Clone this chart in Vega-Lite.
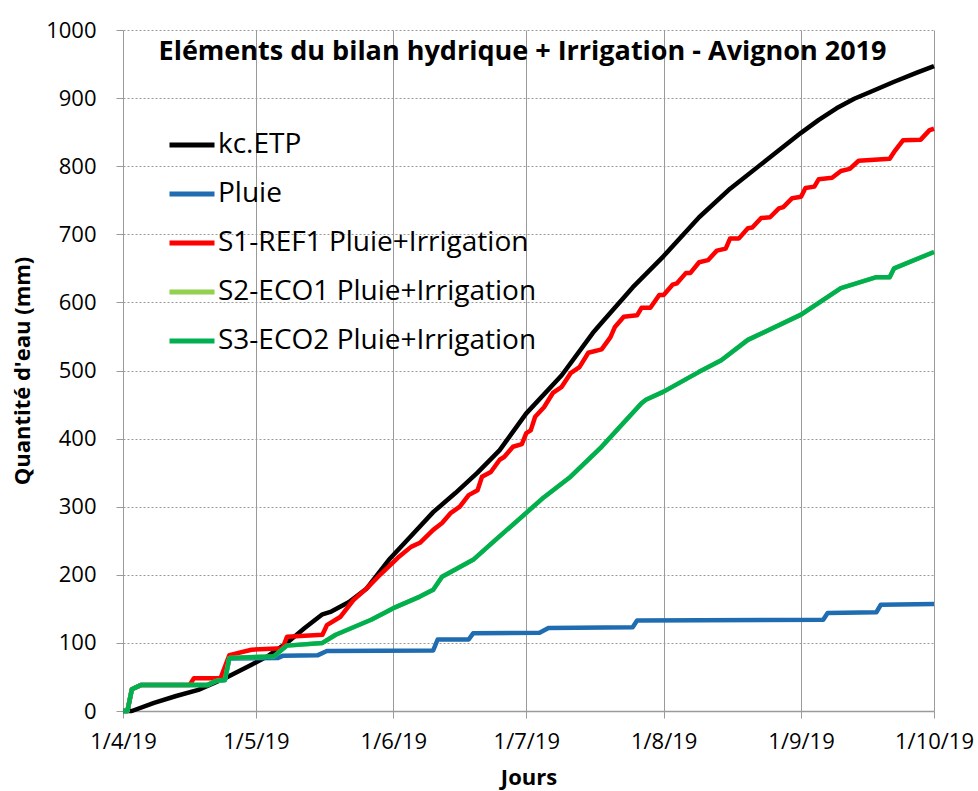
{
  "$schema": "https://vega.github.io/schema/vega-lite/v6.json",
  "width": 811,
  "height": 681,
  "autosize": {"type": "none"},
  "padding": {"left": 123, "top": 30, "right": 44, "bottom": 80},
  "background": "white",
  "title": {"text": "Eléments du bilan hydrique + Irrigation  - Avignon 2019", "fontSize": 27, "font": "Open Sans", "fontWeight": "bold", "color": "black", "anchor": "middle", "offset": -47, "dx": -6},
  "data": {"values": [
    {"date": "2019/04/01", "series": "kc.ETP", "value": 0},
    {"date": "2019/04/03", "series": "kc.ETP", "value": 0},
    {"date": "2019/04/08", "series": "kc.ETP", "value": 12},
    {"date": "2019/04/13", "series": "kc.ETP", "value": 22},
    {"date": "2019/04/18", "series": "kc.ETP", "value": 31},
    {"date": "2019/04/24", "series": "kc.ETP", "value": 48},
    {"date": "2019/04/30", "series": "kc.ETP", "value": 68},
    {"date": "2019/05/04", "series": "kc.ETP", "value": 82},
    {"date": "2019/05/08", "series": "kc.ETP", "value": 100},
    {"date": "2019/05/12", "series": "kc.ETP", "value": 122},
    {"date": "2019/05/16", "series": "kc.ETP", "value": 142},
    {"date": "2019/05/18", "series": "kc.ETP", "value": 146},
    {"date": "2019/05/22", "series": "kc.ETP", "value": 160},
    {"date": "2019/05/26", "series": "kc.ETP", "value": 180},
    {"date": "2019/05/31", "series": "kc.ETP", "value": 222},
    {"date": "2019/06/05", "series": "kc.ETP", "value": 257},
    {"date": "2019/06/10", "series": "kc.ETP", "value": 292},
    {"date": "2019/06/15", "series": "kc.ETP", "value": 320},
    {"date": "2019/06/20", "series": "kc.ETP", "value": 350},
    {"date": "2019/06/25", "series": "kc.ETP", "value": 383},
    {"date": "2019/07/01", "series": "kc.ETP", "value": 437},
    {"date": "2019/07/09", "series": "kc.ETP", "value": 493},
    {"date": "2019/07/16", "series": "kc.ETP", "value": 555},
    {"date": "2019/07/18", "series": "kc.ETP", "value": 570},
    {"date": "2019/07/25", "series": "kc.ETP", "value": 622},
    {"date": "2019/08/01", "series": "kc.ETP", "value": 668},
    {"date": "2019/08/09", "series": "kc.ETP", "value": 725},
    {"date": "2019/08/16", "series": "kc.ETP", "value": 767},
    {"date": "2019/08/24", "series": "kc.ETP", "value": 808},
    {"date": "2019/09/01", "series": "kc.ETP", "value": 849},
    {"date": "2019/09/05", "series": "kc.ETP", "value": 868},
    {"date": "2019/09/09", "series": "kc.ETP", "value": 885},
    {"date": "2019/09/13", "series": "kc.ETP", "value": 899},
    {"date": "2019/09/17", "series": "kc.ETP", "value": 910},
    {"date": "2019/09/22", "series": "kc.ETP", "value": 924},
    {"date": "2019/09/27", "series": "kc.ETP", "value": 937},
    {"date": "2019/10/01", "series": "kc.ETP", "value": 947},

    {"date": "2019/04/01", "series": "Pluie", "value": 0},
    {"date": "2019/04/02", "series": "Pluie", "value": 0},
    {"date": "2019/04/03", "series": "Pluie", "value": 32},
    {"date": "2019/04/05", "series": "Pluie", "value": 38},
    {"date": "2019/04/20", "series": "Pluie", "value": 38},
    {"date": "2019/04/22", "series": "Pluie", "value": 44},
    {"date": "2019/04/24", "series": "Pluie", "value": 45},
    {"date": "2019/04/25", "series": "Pluie", "value": 77},
    {"date": "2019/05/06", "series": "Pluie", "value": 78},
    {"date": "2019/05/07", "series": "Pluie", "value": 81},
    {"date": "2019/05/15", "series": "Pluie", "value": 82},
    {"date": "2019/05/17", "series": "Pluie", "value": 88},
    {"date": "2019/06/10", "series": "Pluie", "value": 89},
    {"date": "2019/06/11", "series": "Pluie", "value": 105},
    {"date": "2019/06/18", "series": "Pluie", "value": 105},
    {"date": "2019/06/19", "series": "Pluie", "value": 114},
    {"date": "2019/07/04", "series": "Pluie", "value": 115},
    {"date": "2019/07/06", "series": "Pluie", "value": 122},
    {"date": "2019/07/25", "series": "Pluie", "value": 123},
    {"date": "2019/07/26", "series": "Pluie", "value": 133},
    {"date": "2019/09/06", "series": "Pluie", "value": 134},
    {"date": "2019/09/07", "series": "Pluie", "value": 144},
    {"date": "2019/09/18", "series": "Pluie", "value": 145},
    {"date": "2019/09/19", "series": "Pluie", "value": 156},
    {"date": "2019/10/01", "series": "Pluie", "value": 157},

    {"date": "2019/04/01", "series": "S1-REF1 Pluie+Irrigation", "value": 0},
    {"date": "2019/04/02", "series": "S1-REF1 Pluie+Irrigation", "value": 0},
    {"date": "2019/04/03", "series": "S1-REF1 Pluie+Irrigation", "value": 32},
    {"date": "2019/04/05", "series": "S1-REF1 Pluie+Irrigation", "value": 38},
    {"date": "2019/04/16", "series": "S1-REF1 Pluie+Irrigation", "value": 38},
    {"date": "2019/04/17", "series": "S1-REF1 Pluie+Irrigation", "value": 48},
    {"date": "2019/04/23", "series": "S1-REF1 Pluie+Irrigation", "value": 48},
    {"date": "2019/04/25", "series": "S1-REF1 Pluie+Irrigation", "value": 82},
    {"date": "2019/04/30", "series": "S1-REF1 Pluie+Irrigation", "value": 90},
    {"date": "2019/05/07", "series": "S1-REF1 Pluie+Irrigation", "value": 92},
    {"date": "2019/05/08", "series": "S1-REF1 Pluie+Irrigation", "value": 109},
    {"date": "2019/05/16", "series": "S1-REF1 Pluie+Irrigation", "value": 112},
    {"date": "2019/05/17", "series": "S1-REF1 Pluie+Irrigation", "value": 126},
    {"date": "2019/05/20", "series": "S1-REF1 Pluie+Irrigation", "value": 138},
    {"date": "2019/05/23", "series": "S1-REF1 Pluie+Irrigation", "value": 163},
    {"date": "2019/05/26", "series": "S1-REF1 Pluie+Irrigation", "value": 180},
    {"date": "2019/05/29", "series": "S1-REF1 Pluie+Irrigation", "value": 200},
    {"date": "2019/06/02", "series": "S1-REF1 Pluie+Irrigation", "value": 225},
    {"date": "2019/06/05", "series": "S1-REF1 Pluie+Irrigation", "value": 241},
    {"date": "2019/06/07", "series": "S1-REF1 Pluie+Irrigation", "value": 247},
    {"date": "2019/06/10", "series": "S1-REF1 Pluie+Irrigation", "value": 266},
    {"date": "2019/06/12", "series": "S1-REF1 Pluie+Irrigation", "value": 276},
    {"date": "2019/06/14", "series": "S1-REF1 Pluie+Irrigation", "value": 291},
    {"date": "2019/06/16", "series": "S1-REF1 Pluie+Irrigation", "value": 300},
    {"date": "2019/06/18", "series": "S1-REF1 Pluie+Irrigation", "value": 317},
    {"date": "2019/06/20", "series": "S1-REF1 Pluie+Irrigation", "value": 324},
    {"date": "2019/06/21", "series": "S1-REF1 Pluie+Irrigation", "value": 344},
    {"date": "2019/06/23", "series": "S1-REF1 Pluie+Irrigation", "value": 351},
    {"date": "2019/06/25", "series": "S1-REF1 Pluie+Irrigation", "value": 369},
    {"date": "2019/06/26", "series": "S1-REF1 Pluie+Irrigation", "value": 373},
    {"date": "2019/06/28", "series": "S1-REF1 Pluie+Irrigation", "value": 388},
    {"date": "2019/06/30", "series": "S1-REF1 Pluie+Irrigation", "value": 392},
    {"date": "2019/07/01", "series": "S1-REF1 Pluie+Irrigation", "value": 408},
    {"date": "2019/07/02", "series": "S1-REF1 Pluie+Irrigation", "value": 412},
    {"date": "2019/07/03", "series": "S1-REF1 Pluie+Irrigation", "value": 432},
    {"date": "2019/07/05", "series": "S1-REF1 Pluie+Irrigation", "value": 446},
    {"date": "2019/07/07", "series": "S1-REF1 Pluie+Irrigation", "value": 467},
    {"date": "2019/07/09", "series": "S1-REF1 Pluie+Irrigation", "value": 476},
    {"date": "2019/07/11", "series": "S1-REF1 Pluie+Irrigation", "value": 496},
    {"date": "2019/07/13", "series": "S1-REF1 Pluie+Irrigation", "value": 505},
    {"date": "2019/07/15", "series": "S1-REF1 Pluie+Irrigation", "value": 526},
    {"date": "2019/07/18", "series": "S1-REF1 Pluie+Irrigation", "value": 531},
    {"date": "2019/07/20", "series": "S1-REF1 Pluie+Irrigation", "value": 549},
    {"date": "2019/07/21", "series": "S1-REF1 Pluie+Irrigation", "value": 564},
    {"date": "2019/07/23", "series": "S1-REF1 Pluie+Irrigation", "value": 579},
    {"date": "2019/07/26", "series": "S1-REF1 Pluie+Irrigation", "value": 581},
    {"date": "2019/07/27", "series": "S1-REF1 Pluie+Irrigation", "value": 592},
    {"date": "2019/07/29", "series": "S1-REF1 Pluie+Irrigation", "value": 592},
    {"date": "2019/07/31", "series": "S1-REF1 Pluie+Irrigation", "value": 611},
    {"date": "2019/08/01", "series": "S1-REF1 Pluie+Irrigation", "value": 611},
    {"date": "2019/08/03", "series": "S1-REF1 Pluie+Irrigation", "value": 626},
    {"date": "2019/08/04", "series": "S1-REF1 Pluie+Irrigation", "value": 628},
    {"date": "2019/08/06", "series": "S1-REF1 Pluie+Irrigation", "value": 643},
    {"date": "2019/08/07", "series": "S1-REF1 Pluie+Irrigation", "value": 643},
    {"date": "2019/08/09", "series": "S1-REF1 Pluie+Irrigation", "value": 659},
    {"date": "2019/08/11", "series": "S1-REF1 Pluie+Irrigation", "value": 662},
    {"date": "2019/08/13", "series": "S1-REF1 Pluie+Irrigation", "value": 676},
    {"date": "2019/08/15", "series": "S1-REF1 Pluie+Irrigation", "value": 679},
    {"date": "2019/08/16", "series": "S1-REF1 Pluie+Irrigation", "value": 694},
    {"date": "2019/08/18", "series": "S1-REF1 Pluie+Irrigation", "value": 694},
    {"date": "2019/08/20", "series": "S1-REF1 Pluie+Irrigation", "value": 709},
    {"date": "2019/08/21", "series": "S1-REF1 Pluie+Irrigation", "value": 710},
    {"date": "2019/08/23", "series": "S1-REF1 Pluie+Irrigation", "value": 724},
    {"date": "2019/08/25", "series": "S1-REF1 Pluie+Irrigation", "value": 725},
    {"date": "2019/08/27", "series": "S1-REF1 Pluie+Irrigation", "value": 738},
    {"date": "2019/08/28", "series": "S1-REF1 Pluie+Irrigation", "value": 740},
    {"date": "2019/08/30", "series": "S1-REF1 Pluie+Irrigation", "value": 753},
    {"date": "2019/09/01", "series": "S1-REF1 Pluie+Irrigation", "value": 755},
    {"date": "2019/09/02", "series": "S1-REF1 Pluie+Irrigation", "value": 768},
    {"date": "2019/09/04", "series": "S1-REF1 Pluie+Irrigation", "value": 770},
    {"date": "2019/09/05", "series": "S1-REF1 Pluie+Irrigation", "value": 781},
    {"date": "2019/09/08", "series": "S1-REF1 Pluie+Irrigation", "value": 783},
    {"date": "2019/09/10", "series": "S1-REF1 Pluie+Irrigation", "value": 793},
    {"date": "2019/09/12", "series": "S1-REF1 Pluie+Irrigation", "value": 796},
    {"date": "2019/09/14", "series": "S1-REF1 Pluie+Irrigation", "value": 808},
    {"date": "2019/09/21", "series": "S1-REF1 Pluie+Irrigation", "value": 811},
    {"date": "2019/09/22", "series": "S1-REF1 Pluie+Irrigation", "value": 821},
    {"date": "2019/09/24", "series": "S1-REF1 Pluie+Irrigation", "value": 838},
    {"date": "2019/09/28", "series": "S1-REF1 Pluie+Irrigation", "value": 839},
    {"date": "2019/09/30", "series": "S1-REF1 Pluie+Irrigation", "value": 853},
    {"date": "2019/10/01", "series": "S1-REF1 Pluie+Irrigation", "value": 855},

    {"date": "2019/04/01", "series": "S2-ECO1 Pluie+Irrigation", "value": 0},
    {"date": "2019/04/02", "series": "S2-ECO1 Pluie+Irrigation", "value": 0},
    {"date": "2019/04/03", "series": "S2-ECO1 Pluie+Irrigation", "value": 32},
    {"date": "2019/04/05", "series": "S2-ECO1 Pluie+Irrigation", "value": 38},
    {"date": "2019/04/20", "series": "S2-ECO1 Pluie+Irrigation", "value": 38},
    {"date": "2019/04/22", "series": "S2-ECO1 Pluie+Irrigation", "value": 44},
    {"date": "2019/04/24", "series": "S2-ECO1 Pluie+Irrigation", "value": 46},
    {"date": "2019/04/25", "series": "S2-ECO1 Pluie+Irrigation", "value": 78},
    {"date": "2019/05/05", "series": "S2-ECO1 Pluie+Irrigation", "value": 80},
    {"date": "2019/05/08", "series": "S2-ECO1 Pluie+Irrigation", "value": 96},
    {"date": "2019/05/16", "series": "S2-ECO1 Pluie+Irrigation", "value": 100},
    {"date": "2019/05/19", "series": "S2-ECO1 Pluie+Irrigation", "value": 112},
    {"date": "2019/05/27", "series": "S2-ECO1 Pluie+Irrigation", "value": 134},
    {"date": "2019/06/01", "series": "S2-ECO1 Pluie+Irrigation", "value": 151},
    {"date": "2019/06/07", "series": "S2-ECO1 Pluie+Irrigation", "value": 168},
    {"date": "2019/06/10", "series": "S2-ECO1 Pluie+Irrigation", "value": 178},
    {"date": "2019/06/12", "series": "S2-ECO1 Pluie+Irrigation", "value": 197},
    {"date": "2019/06/19", "series": "S2-ECO1 Pluie+Irrigation", "value": 222},
    {"date": "2019/06/24", "series": "S2-ECO1 Pluie+Irrigation", "value": 251},
    {"date": "2019/07/01", "series": "S2-ECO1 Pluie+Irrigation", "value": 291},
    {"date": "2019/07/05", "series": "S2-ECO1 Pluie+Irrigation", "value": 314},
    {"date": "2019/07/11", "series": "S2-ECO1 Pluie+Irrigation", "value": 344},
    {"date": "2019/07/18", "series": "S2-ECO1 Pluie+Irrigation", "value": 388},
    {"date": "2019/07/27", "series": "S2-ECO1 Pluie+Irrigation", "value": 452},
    {"date": "2019/07/28", "series": "S2-ECO1 Pluie+Irrigation", "value": 457},
    {"date": "2019/08/01", "series": "S2-ECO1 Pluie+Irrigation", "value": 469},
    {"date": "2019/08/09", "series": "S2-ECO1 Pluie+Irrigation", "value": 498},
    {"date": "2019/08/14", "series": "S2-ECO1 Pluie+Irrigation", "value": 515},
    {"date": "2019/08/20", "series": "S2-ECO1 Pluie+Irrigation", "value": 545},
    {"date": "2019/09/01", "series": "S2-ECO1 Pluie+Irrigation", "value": 582},
    {"date": "2019/09/10", "series": "S2-ECO1 Pluie+Irrigation", "value": 621},
    {"date": "2019/09/18", "series": "S2-ECO1 Pluie+Irrigation", "value": 637},
    {"date": "2019/09/21", "series": "S2-ECO1 Pluie+Irrigation", "value": 637},
    {"date": "2019/09/22", "series": "S2-ECO1 Pluie+Irrigation", "value": 650},
    {"date": "2019/10/01", "series": "S2-ECO1 Pluie+Irrigation", "value": 674},

    {"date": "2019/04/01", "series": "S3-ECO2 Pluie+Irrigation", "value": 0},
    {"date": "2019/04/02", "series": "S3-ECO2 Pluie+Irrigation", "value": 0},
    {"date": "2019/04/03", "series": "S3-ECO2 Pluie+Irrigation", "value": 32},
    {"date": "2019/04/05", "series": "S3-ECO2 Pluie+Irrigation", "value": 38},
    {"date": "2019/04/20", "series": "S3-ECO2 Pluie+Irrigation", "value": 38},
    {"date": "2019/04/22", "series": "S3-ECO2 Pluie+Irrigation", "value": 44},
    {"date": "2019/04/24", "series": "S3-ECO2 Pluie+Irrigation", "value": 46},
    {"date": "2019/04/25", "series": "S3-ECO2 Pluie+Irrigation", "value": 78},
    {"date": "2019/05/05", "series": "S3-ECO2 Pluie+Irrigation", "value": 80},
    {"date": "2019/05/08", "series": "S3-ECO2 Pluie+Irrigation", "value": 96},
    {"date": "2019/05/16", "series": "S3-ECO2 Pluie+Irrigation", "value": 100},
    {"date": "2019/05/19", "series": "S3-ECO2 Pluie+Irrigation", "value": 112},
    {"date": "2019/05/27", "series": "S3-ECO2 Pluie+Irrigation", "value": 134},
    {"date": "2019/06/01", "series": "S3-ECO2 Pluie+Irrigation", "value": 151},
    {"date": "2019/06/07", "series": "S3-ECO2 Pluie+Irrigation", "value": 168},
    {"date": "2019/06/10", "series": "S3-ECO2 Pluie+Irrigation", "value": 178},
    {"date": "2019/06/12", "series": "S3-ECO2 Pluie+Irrigation", "value": 197},
    {"date": "2019/06/19", "series": "S3-ECO2 Pluie+Irrigation", "value": 222},
    {"date": "2019/06/24", "series": "S3-ECO2 Pluie+Irrigation", "value": 251},
    {"date": "2019/07/01", "series": "S3-ECO2 Pluie+Irrigation", "value": 291},
    {"date": "2019/07/05", "series": "S3-ECO2 Pluie+Irrigation", "value": 314},
    {"date": "2019/07/11", "series": "S3-ECO2 Pluie+Irrigation", "value": 344},
    {"date": "2019/07/18", "series": "S3-ECO2 Pluie+Irrigation", "value": 388},
    {"date": "2019/07/27", "series": "S3-ECO2 Pluie+Irrigation", "value": 452},
    {"date": "2019/07/28", "series": "S3-ECO2 Pluie+Irrigation", "value": 457},
    {"date": "2019/08/01", "series": "S3-ECO2 Pluie+Irrigation", "value": 469},
    {"date": "2019/08/09", "series": "S3-ECO2 Pluie+Irrigation", "value": 498},
    {"date": "2019/08/14", "series": "S3-ECO2 Pluie+Irrigation", "value": 515},
    {"date": "2019/08/20", "series": "S3-ECO2 Pluie+Irrigation", "value": 545},
    {"date": "2019/09/01", "series": "S3-ECO2 Pluie+Irrigation", "value": 582},
    {"date": "2019/09/10", "series": "S3-ECO2 Pluie+Irrigation", "value": 621},
    {"date": "2019/09/18", "series": "S3-ECO2 Pluie+Irrigation", "value": 637},
    {"date": "2019/09/21", "series": "S3-ECO2 Pluie+Irrigation", "value": 637},
    {"date": "2019/09/22", "series": "S3-ECO2 Pluie+Irrigation", "value": 650},
    {"date": "2019/10/01", "series": "S3-ECO2 Pluie+Irrigation", "value": 674}
  ]},
  "mark": {"type": "line", "strokeWidth": 4.5, "strokeJoin": "round", "clip": false},
  "encoding": {
    "x": {
      "field": "date", "type": "temporal", "title": "Jours",
      "scale": {"domain": [{"year": 2019, "month": 4, "date": 1}, {"year": 2019, "month": 10, "date": 1}]},
      "axis": {
        "values": [
          {"year": 2019, "month": 4, "date": 1},
          {"year": 2019, "month": 5, "date": 1},
          {"year": 2019, "month": 6, "date": 1},
          {"year": 2019, "month": 7, "date": 1},
          {"year": 2019, "month": 8, "date": 1},
          {"year": 2019, "month": 9, "date": 1},
          {"year": 2019, "month": 10, "date": 1}
        ],
        "format": "%-d/%-m/%y",
        "grid": true, "gridColor": "#9a9a9a", "gridWidth": 1,
        "domainColor": "#9a9a9a", "domainWidth": 1.5,
        "tickColor": "#9a9a9a", "tickSize": 7,
        "labelFont": "Open Sans", "labelFontSize": 22, "labelColor": "black", "labelPadding": 13,
        "labelFlush": false, "labelOverlap": false, "labelBound": false,
        "titleFont": "Open Sans", "titleFontSize": 22, "titleFontWeight": "bold", "titleColor": "black", "titlePadding": 15
      }
    },
    "y": {
      "field": "value", "type": "quantitative", "title": "Quantité d'eau (mm)",
      "scale": {"domain": [0, 1000], "nice": false},
      "axis": {
        "values": [0, 100, 200, 300, 400, 500, 600, 700, 800, 900, 1000],
        "format": "d",
        "grid": true, "gridColor": "#9a9a9a", "gridDash": [2, 2], "gridWidth": 1,
        "domain": false,
        "tickColor": "#9a9a9a", "tickSize": 7,
        "labelFont": "Open Sans", "labelFontSize": 22, "labelColor": "black", "labelPadding": 20,
        "titleFont": "Open Sans", "titleFontSize": 22, "titleFontWeight": "bold", "titleColor": "black", "titlePadding": 11
      }
    },
    "color": {
      "field": "series", "type": "nominal",
      "scale": {
        "domain": ["kc.ETP", "Pluie", "S1-REF1 Pluie+Irrigation", "S2-ECO1 Pluie+Irrigation", "S3-ECO2 Pluie+Irrigation"],
        "range": ["#000000", "#1f6cb0", "#ff0000", "#92d050", "#00b050"]
      },
      "legend": {
        "orient": "none", "legendX": 44, "legendY": 90, "title": null,
        "symbolType": "stroke", "symbolSize": 2025, "symbolStrokeWidth": 5,
        "labelFont": "Open Sans", "labelFontSize": 28, "labelColor": "black", "labelOffset": 1, "labelLimit": 0,
        "rowPadding": 10, "padding": 0
      }
    }
  },
  "config": {"view": {"stroke": null}}
}
